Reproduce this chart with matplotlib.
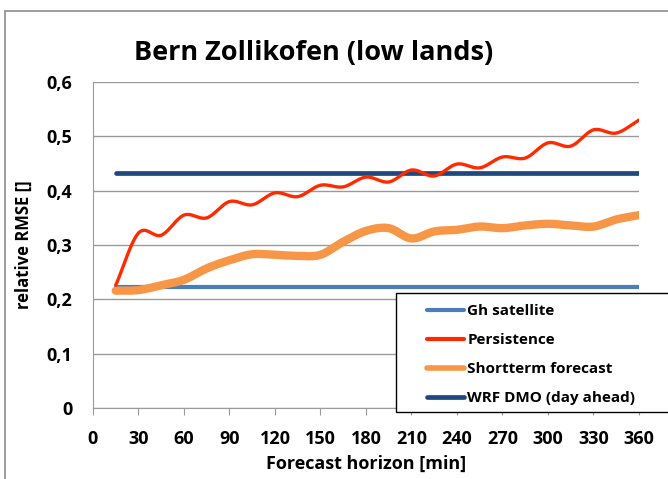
import matplotlib.pyplot as plt
import numpy as np
from matplotlib.patches import Rectangle

# forecast horizon [min]
horizon = [15, 30, 45, 60, 75, 90, 105, 120, 135, 150, 165, 180,
           195, 210, 225, 240, 255, 270, 285, 300, 315, 330, 345, 360]

gh_satellite = [0.223] * 24
persistence = [0.226, 0.322, 0.318, 0.355, 0.350, 0.380, 0.374, 0.396,
               0.389, 0.410, 0.407, 0.425, 0.416, 0.438, 0.427, 0.449,
               0.442, 0.462, 0.460, 0.488, 0.482, 0.512, 0.506, 0.530]
shortterm = [0.216, 0.217, 0.226, 0.236, 0.257, 0.272, 0.283, 0.282,
             0.280, 0.282, 0.306, 0.326, 0.331, 0.312, 0.325, 0.328,
             0.334, 0.331, 0.336, 0.339, 0.336, 0.334, 0.347, 0.355]
wrf_dmo = [0.433] * 24

series_names = ["Gh satellite", "Persistence", "Shortterm forecast", "WRF DMO (day ahead)"]
yticks = [0, 0.1, 0.2, 0.3, 0.4, 0.5, 0.6]
xticks = list(range(0, 361, 30))


def smooth(x, y, n=20):
    # catmull-rom curve through the points, like excel's smoothed line
    x = np.asarray(x, float)
    y = np.asarray(y, float)
    px = np.concatenate([[2 * x[0] - x[1]], x, [2 * x[-1] - x[-2]]])
    py = np.concatenate([[2 * y[0] - y[1]], y, [2 * y[-1] - y[-2]]])
    t = np.linspace(0, 1, n, endpoint=False)
    ox, oy = [], []
    for i in range(1, len(px) - 2):
        for p, o in ((px, ox), (py, oy)):
            p0, p1, p2, p3 = p[i - 1], p[i], p[i + 1], p[i + 2]
            o.extend(0.5 * (2 * p1 + (-p0 + p2) * t
                            + (2 * p0 - 5 * p1 + 4 * p2 - p3) * t ** 2
                            + (-p0 + 3 * p1 - 3 * p2 + p3) * t ** 3))
    ox.append(x[-1])
    oy.append(y[-1])
    return ox, oy


plt.rcParams['font.family'] = ['Open Sans', 'DejaVu Sans']
plt.rcParams['font.weight'] = 'bold'

fig = plt.figure(figsize=(6.68, 4.79), dpi=100)
fig.patches.append(Rectangle((5 / 668, -0.1), 1.2, 1 - 11 / 479 + 0.1,
                             transform=fig.transFigure, fill=False,
                             edgecolor='#8c8c8c', linewidth=1.2))

ax = fig.add_axes([93 / 668, 1 - 408 / 479, 546 / 668, 326 / 479])

ax.plot(*smooth(horizon, gh_satellite), color='#4a7ebb', lw=3,
        solid_capstyle='round', label=series_names[0], zorder=3)
ax.plot(*smooth(horizon, persistence), color='#ff2a00', lw=2.4,
        solid_capstyle='round', label=series_names[1], zorder=5)
ax.plot(*smooth(horizon, shortterm), color='#f79646', lw=6,
        solid_capstyle='round', label=series_names[2], zorder=4)
ax.plot(*smooth(horizon, wrf_dmo), color='#1f497d', lw=3.4,
        solid_capstyle='round', label=series_names[3], zorder=3)

ax.set_xlim(0, 360)
ax.set_ylim(0, 0.6)
ax.set_xticks(xticks)
ax.set_yticks(yticks)
ax.set_yticklabels([('%.1f' % v).replace('.', ',') if v else '0' for v in yticks])
ax.grid(axis='y', color='#9a9a9a', lw=1)
ax.set_axisbelow(True)
for s in ('top', 'right'):
    ax.spines[s].set_visible(False)
for s in ('left', 'bottom'):
    ax.spines[s].set_color('#9a9a9a')
ax.tick_params(axis='x', length=5, color='#9a9a9a', labelsize=13, pad=11)
ax.tick_params(axis='y', length=0, labelsize=13, pad=15)

ax.set_xlabel("Forecast horizon [min]", fontsize=13, fontweight='bold', labelpad=5)
ax.set_ylabel("relative RMSE []", fontsize=12, fontweight='bold', labelpad=10)

fig.text(314 / 668, 1 - 53 / 479, "Bern Zollikofen (low lands)", fontsize=19.5,
         fontweight='bold', ha='center', va='center')

# legend box, cut by the right edge like in the original
box = Rectangle((396 / 668, 1 - 412 / 479), 0.6, 119 / 479, transform=fig.transFigure,
                facecolor='white', edgecolor='black', lw=1, clip_on=False, zorder=9)
ax.add_patch(box)
leg = ax.legend(loc='upper left', bbox_to_anchor=(427 / 668, 1 - 304 / 479),
                bbox_transform=fig.transFigure, borderaxespad=0, borderpad=0,
                frameon=False, fontsize=11, handlelength=2.4,
                handletextpad=0.25, labelspacing=0.98)
for ln, w in zip(leg.get_lines(), [3, 3, 4, 3.4]):
    ln.set_linewidth(w)
    ln.set_solid_capstyle('round')
leg.set_zorder(10)

fig.savefig("out.png", dpi=100)
